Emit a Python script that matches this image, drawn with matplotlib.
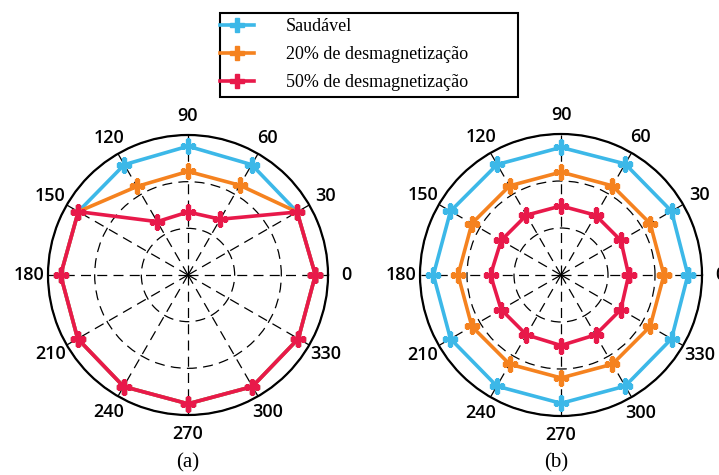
import numpy as np
import matplotlib
matplotlib.use("Agg")
import matplotlib.pyplot as plt
from matplotlib.patches import Rectangle

# angles in degrees
angles = [0, 30, 60, 90, 120, 150, 180, 210, 240, 270, 300, 330]

# (a) values, normalised radius
a_saudavel = [0.91, 0.90, 0.91, 0.92, 0.91, 0.905, 0.91, 0.91, 0.92, 0.92, 0.92, 0.91]
a_20 = [0.91, 0.90, 0.74, 0.74, 0.73, 0.905, 0.91, 0.91, 0.92, 0.92, 0.92, 0.91]
a_50 = [0.91, 0.90, 0.46, 0.45, 0.44, 0.905, 0.91, 0.91, 0.92, 0.92, 0.92, 0.91]

# (b) values
b_saudavel = [0.90, 0.905, 0.91, 0.905, 0.905, 0.905, 0.905, 0.905, 0.91, 0.91, 0.91, 0.905]
b_20 = [0.73, 0.73, 0.73, 0.73, 0.73, 0.73, 0.73, 0.73, 0.73, 0.73, 0.73, 0.73]
b_50 = [0.48, 0.49, 0.49, 0.49, 0.49, 0.49, 0.50, 0.49, 0.49, 0.50, 0.49, 0.49]

labels = ["Saudável", "20% de desmagnetização", "50% de desmagnetização"]
colors = ["#3cb8e8", "#f5821f", "#e8194a"]

W, H = 719, 475
fig = plt.figure(figsize=(W / 100, H / 100), dpi=100)


def polar_axes(cx, cy, r):
    return fig.add_axes([(cx - r) / W, (H - cy - r) / H, 2 * r / W, 2 * r / H],
                        projection="polar")


def draw(ax, series):
    th = np.deg2rad(angles + [angles[0]])
    lines = []
    for vals, c, lab in zip(series, colors, labels):
        v = list(vals) + [vals[0]]
        ln, = ax.plot(th, v, color=c, lw=2.6, marker="P", ms=10,
                      mec=c, label=lab, zorder=3)
        lines.append(ln)
    ax.set_ylim(0, 1)
    ax.set_yticks([1 / 3, 2 / 3, 1])
    ax.set_yticklabels([])
    ax.set_thetagrids(angles, [str(a) for a in angles], fontsize=13,
                      family="Open Sans", weight="semibold")
    ax.tick_params(axis="x", pad=3)
    ax.grid(True, color="black", ls=(0, (8, 5)), lw=0.9)
    ax.spines["polar"].set_linewidth(1.6)
    return lines


ax1 = polar_axes(188, 275, 140)
lines = draw(ax1, [a_saudavel, a_20, a_50])
ax2 = polar_axes(561, 275, 141)
draw(ax2, [b_saudavel, b_20, b_50])

fig.text(188 / W, 1 - 463 / H, "(a)", ha="center", va="center",
         family="Liberation Serif", fontsize=15)
fig.text(556 / W, 1 - 463 / H, "(b)", ha="center", va="center",
         family="Liberation Serif", fontsize=15)

# legend box
fig.patches.append(Rectangle((220 / W, 1 - 97 / H), 298 / W, 84 / H,
                             transform=fig.transFigure, fill=False,
                             ec="black", lw=1.5))
fig.legend(lines, labels, loc="upper left", bbox_to_anchor=(220 / W, 1 - 18 / H),
           frameon=False, borderpad=0, borderaxespad=0, handlelength=1.9,
           handletextpad=1.75, labelspacing=0.62,
           prop={"family": "Liberation Serif", "size": 13})

fig.savefig("out.png", dpi=100)
